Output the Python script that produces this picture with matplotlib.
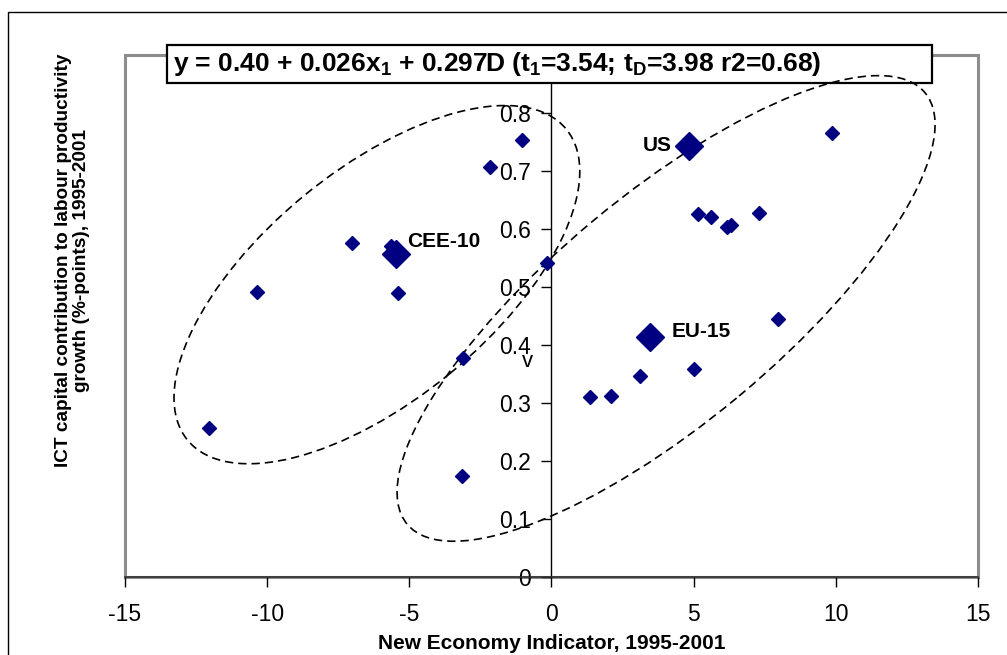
import matplotlib
matplotlib.use("Agg")
import matplotlib.pyplot as plt
from matplotlib.patches import Ellipse, Rectangle
from matplotlib.transforms import ScaledTranslation

plt.rcParams["font.family"] = ["Liberation Sans", "DejaVu Sans"]
plt.rcParams["mathtext.fontset"] = "custom"
plt.rcParams["mathtext.rm"] = "Liberation Sans"
plt.rcParams["mathtext.bf"] = "Liberation Sans:bold"
plt.rcParams["mathtext.default"] = "bf"
plt.rcParams["axes.unicode_minus"] = False

# single countries
nei = [-12.04, -10.37, -7.03, -5.66, -5.39, -3.10, -3.13, -2.16, -1.05, -0.17,
       1.34, 2.08, 3.10, 5.00, 7.98, 5.14, 5.60, 6.19, 6.33, 7.31, 9.86]
ict = [0.256, 0.491, 0.575, 0.571, 0.490, 0.377, 0.174, 0.706, 0.753, 0.541,
       0.310, 0.312, 0.347, 0.358, 0.444, 0.626, 0.620, 0.604, 0.607, 0.627, 0.766]

# aggregates
group_names = ["CEE-10", "US", "EU-15"]
group_nei = [-5.48, 4.82, 3.46]
group_ict = [0.557, 0.743, 0.413]

x_ticks = [-15, -10, -5, 0, 5, 10, 15]
y_ticks = [0, 0.1, 0.2, 0.3, 0.4, 0.5, 0.6, 0.7, 0.8]
y_tick_labels = ["0", "0.1", "0.2", "0.3", "0.4", "0.5", "0.6", "0.7", "0.8"]
equation = "y = 0.40 + 0.026x$_1$ + 0.297D (t$_1$=3.54; t$_D$=3.98 r2=0.68)"
x_title = "New Economy Indicator, 1995-2001"
y_title = "ICT capital contribution to labour productivity\ngrowth (%-points), 1995-2001"

# hand-drawn group ellipses: centre (data), width/height (inches), angle
ellipse_centres = [(-6.14, 0.504), (4.03, 0.463)]
ellipse_sizes = [(4.90, 2.30), (6.74, 2.28)]
ellipse_angles = [39.4, 39.8]

navy = "#000080"

fig = plt.figure(figsize=(10.07, 6.55), dpi=100)
ax = fig.add_axes([0.1241, 0.1191, 0.8471, 0.797])
ax.set_xlim(-15, 15)
ax.set_ylim(0, 0.9)

for side in ["top", "right"]:
    ax.spines[side].set_visible(False)
ax.spines["left"].set_position(("data", 0))
ax.spines["left"].set_color("black")
ax.spines["left"].set_linewidth(1.0)
ax.spines["bottom"].set_color("#303030")
ax.spines["bottom"].set_linewidth(1.2)
ax.add_patch(Rectangle((0, 0), 1, 1, transform=ax.transAxes, fill=False,
                       ec="#8c8c8c", lw=2.2, clip_on=False, zorder=1))

ax.set_xticks(x_ticks)
ax.set_yticks(y_ticks, y_tick_labels)
ax.tick_params(axis="both", direction="out", length=7, width=1, color="black",
               labelsize=16.5, pad=8)
ax.tick_params(axis="x", pad=12)

ax.plot(nei, ict, linestyle="none", marker="D", ms=7.4, color=navy, zorder=5)
ax.plot(group_nei, group_ict, linestyle="none", marker="D", ms=14, color=navy, zorder=5)

offsets = [(8, 9, "left"), (-12, 0.7, "right"), (15.6, 4.5, "left")]
for name, gx, gy, (dx, dy, ha) in zip(group_names, group_nei, group_ict, offsets):
    ax.annotate(name, (gx, gy), xytext=(dx, dy), textcoords="offset points",
                ha=ha, va="center", fontsize=15, fontweight="bold", zorder=6)

ax.text(-0.86, 0.372, "v", ha="center", va="center", fontsize=16, zorder=4)

# equation box
ax.add_patch(Rectangle((0.1658, 0.8733), 0.7597, 0.058, transform=fig.transFigure,
                       facecolor="white", edgecolor="black", lw=1.6,
                       clip_on=False, zorder=3))
ax.text(0.1718, 0.9023, equation, transform=fig.transFigure, ha="left", va="center",
        fontsize=19, fontweight="bold", zorder=3.5)

for (cx, cy), (w, h), ang in zip(ellipse_centres, ellipse_sizes, ellipse_angles):
    trans = fig.dpi_scale_trans + ScaledTranslation(cx, cy, ax.transData)
    ax.add_patch(Ellipse((0, 0), w, h, angle=ang, transform=trans, fill=False,
                         ec="black", lw=1.2, linestyle=(0, (5, 3)),
                         clip_on=False, zorder=4))

fig.text(0.5477, 0.017, x_title, ha="center", va="center",
         fontsize=15, fontweight="bold")
fig.text(0.072, 0.603, y_title, ha="center", va="center", rotation=90,
         fontsize=13.7, fontweight="bold", linespacing=1.1, multialignment="center")

# outer chart border (cut off at right and bottom)
fig.add_artist(Rectangle((8 / 1007, -0.5), 2, 1.5 - 12 / 655, transform=fig.transFigure,
                         fill=False, ec="black", lw=1))

fig.savefig("out.png", dpi=100)
plt.close(fig)
